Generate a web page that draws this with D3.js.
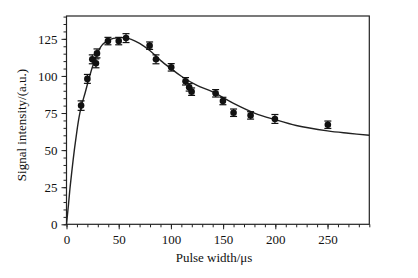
<!DOCTYPE html>
<html><head><meta charset="utf-8">
<script src="https://cdn.jsdelivr.net/npm/d3@7"></script>
<style>body{margin:0;background:#fff}svg{display:block}</style>
</head><body>
<svg id="c" width="418" height="278"></svg>
<script>
const pulseWidth = [14, 20, 24.7, 28.2, 29.2, 39.7, 50, 57, 79.6, 85.7, 100.3, 114, 117.5, 119.8, 142.8, 149.8, 160, 176.3, 199.6, 250.3];
const intensity  = [80, 98, 111.2, 108.5, 115.2, 123.5, 123.5, 125.5, 120.4, 111.2, 105.8, 96.4, 92.3, 89.4, 88.3, 83.1, 75.2, 73.4, 71, 67.1];
const errorBar   = [3.2, 3, 3, 3, 3, 2.5, 2.5, 3, 2.5, 3, 2.5, 2.5, 2.5, 2.5, 2.5, 2.5, 2.5, 2.5, 3, 2.5];
const fitX = [0, 1, 2, 3.3, 5, 7.5, 10, 12, 14, 18, 22, 26, 30, 35, 42, 50, 55, 62, 70, 80, 90, 100, 110, 125, 140, 160, 180, 200, 220, 250, 270, 290];
const fitY = [0, 7, 14, 24, 35, 50, 63, 72, 79, 89, 99.5, 108.5, 116, 121.5, 124.7, 125.7, 125.8, 124.7, 122, 117, 110.5, 105, 99.8, 93.6, 89.3, 81.5, 75, 70.5, 66.6, 63, 61.4, 60];
const xTicks = [0, 50, 100, 150, 200, 250];
const yTicks = [0, 25, 50, 75, 100, 125];

const svg = d3.select("#c");
const L = 66.5, R = 369.3, T = 16, B = 224.3;
const x = d3.scaleLinear().domain([0, 290]).range([L, R]);
const y = d3.scaleLinear().domain([0, 140.4]).range([B, T]);
const font = "Liberation Serif, Times New Roman, serif";

// frame
svg.append("rect").attr("x", L).attr("y", T).attr("width", R - L).attr("height", B - T)
  .attr("fill", "none").attr("stroke", "#222").attr("stroke-width", 1.2);

// ticks
const gx = svg.append("g").attr("transform", `translate(0,${B})`);
gx.call(d3.axisBottom(x).tickValues(d3.range(0, 291, 10)).tickSize(3).tickFormat(""))
  .call(g => g.select(".domain").remove());
gx.append("g").call(d3.axisBottom(x).tickValues(xTicks).tickSize(5).tickPadding(5))
  .call(g => g.select(".domain").remove());
const gy = svg.append("g").attr("transform", `translate(${L},0)`);
gy.call(d3.axisLeft(y).tickValues(d3.range(0, 141, 5)).tickSize(3).tickFormat(""))
  .call(g => g.select(".domain").remove());
gy.append("g").call(d3.axisLeft(y).tickValues(yTicks).tickSize(5).tickPadding(4))
  .call(g => g.select(".domain").remove());
svg.selectAll(".tick line").attr("stroke", "#222").attr("stroke-width", 1);
svg.selectAll(".tick text").attr("font-family", font).attr("font-size", 13).attr("fill", "#111");

// fit curve
const line = d3.line().x(d => x(d[0])).y(d => y(d[1])).curve(d3.curveCatmullRom);
svg.append("path").datum(fitX.map((v, i) => [v, fitY[i]])).attr("d", line)
  .attr("fill", "none").attr("stroke", "#222").attr("stroke-width", 1.4);

// error bars + points
const pts = pulseWidth.map((v, i) => ({x: v, y: intensity[i], e: errorBar[i]}));
const eb = svg.append("g").attr("stroke", "#111").attr("stroke-width", 1.2);
pts.forEach(p => {
  eb.append("line").attr("x1", x(p.x)).attr("x2", x(p.x)).attr("y1", y(p.y - p.e)).attr("y2", y(p.y + p.e));
  eb.append("line").attr("x1", x(p.x) - 3.5).attr("x2", x(p.x) + 3.5).attr("y1", y(p.y - p.e)).attr("y2", y(p.y - p.e));
  eb.append("line").attr("x1", x(p.x) - 3.5).attr("x2", x(p.x) + 3.5).attr("y1", y(p.y + p.e)).attr("y2", y(p.y + p.e));
});
svg.append("g").selectAll("circle").data(pts).join("circle")
  .attr("cx", d => x(d.x)).attr("cy", d => y(d.y)).attr("r", 3.3).attr("fill", "#111");

// titles
svg.append("text").attr("x", 214).attr("y", 262).attr("text-anchor", "middle")
  .attr("font-family", font).attr("font-size", 13).attr("fill", "#111").text("Pulse width/μs");
svg.append("text").attr("transform", "translate(26,125) rotate(-90)").attr("text-anchor", "middle")
  .attr("font-family", font).attr("font-size", 13).attr("fill", "#111").text("Signal intensity/(a.u.)");
</script>
</body></html>
